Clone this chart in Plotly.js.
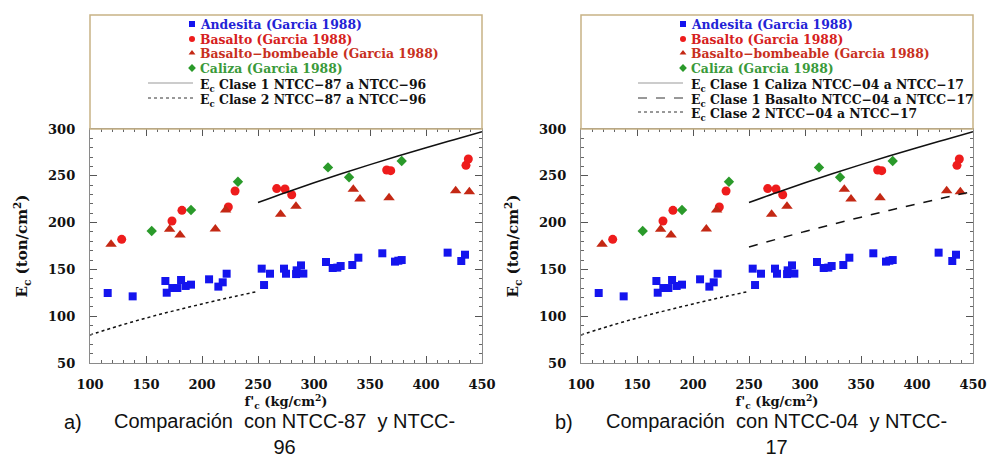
<!DOCTYPE html>
<html>
<head>
<meta charset="utf-8">
<script src="https://cdn.plot.ly/plotly-3.0.1.min.js"></script>
<style>html,body{margin:0;padding:0;background:#fff;} #chart{width:990px;height:459px;}</style>
</head>
<body>
<div id="chart"></div>
<script>
// ---------------- DATA ----------------
const andesitaX = [115.8,138.1,167.3,168.5,173.5,178,181.3,185.4,190.2,206.3,214.6,218.5,222,253.3,255.4,260.7,273.2,275,284,284.5,288.4,290.5,310.7,316.7,320.8,323.8,334.2,339.6,361,372.3,375.3,378.3,419.3,431.5,434.8];
const andesitaY = [124.8,121.2,137.6,125.1,130.1,130.1,138.7,132.3,133.7,139.4,131.6,136.2,145.4,150.8,133.3,145.4,150.8,145.4,145,149,154.3,145.5,157.9,151.5,151.9,153.6,154.7,162.5,167.2,158.3,159.3,160,167.9,159,165.7];
const basaltoX = [128.3,173.2,182.1,223.5,229.5,266.7,274.1,280.1,364.9,368.5,435.7,437.8];
const basaltoY = [182.1,201.7,213.1,216.7,233.8,236.3,235.9,229.8,256.2,255.5,261.2,268];
const bombX = [118.8,171.1,180.4,211.9,221.1,270.2,283.9,335.1,341.1,367,426.5,438.7];
const bombY = [176.8,192.8,186.8,193.2,213.5,208.8,217.4,235.5,225.2,226.6,234.1,233];
const calizaX = [155.1,190.2,232.1,312.5,331.3,378.3];
const calizaY = [191,213.5,243.7,259,248.4,265.8];
const clase1X = [250,275,300,325,350,375,400,425,450];
const clase1Y = [221.4,232.2,242.5,252.4,261.9,271.1,280,288.6,297];
const clase1BasaltoY = [173.9,182.4,190.5,198.3,205.8,213,220,226.8,233.3];
const clase2X = [100,125,150,175,200,225,250];
const clase2Y = [80,89.4,98,105.8,113.1,120,126.5];

const legendLabelsA = ["Andesita (Garcia 1988)","Basalto (Garcia 1988)","Basalto\u2212bombeable (Garcia 1988)","Caliza (Garcia 1988)",
  "E<sub>c</sub> Clase 1 NTCC\u221287 a NTCC\u221296","E<sub>c</sub> Clase 2 NTCC\u221287 a NTCC\u221296"];
const legendLabelsB = ["Andesita (Garcia 1988)","Basalto (Garcia 1988)","Basalto\u2212bombeable (Garcia 1988)","Caliza (Garcia 1988)",
  "E<sub>c</sub> Clase 1 Caliza NTCC\u221204 a NTCC\u221217","E<sub>c</sub> Clase 1 Basalto NTCC\u221204 a NTCC\u221217","E<sub>c</sub> Clase 2 NTCC\u221204 a NTCC\u221217"];
const captionA = ["a)","Comparaci\u00f3n&nbsp; con NTCC-87&nbsp; y NTCC-<br>96"];
const captionB = ["b)","Comparaci\u00f3n&nbsp; con NTCC-04&nbsp; y NTCC-<br>17"];

// ---------------- STYLE ----------------
const W = 990, H = 459;
const px = v => v / W, py = v => 1 - v / H;
const C = {blue:'#1414ee', red:'#ee1c1c', dred:'#c42814', green:'#2a9a2a'};
const TC = {blue:'#2323d6', red:'#d62020', dred:'#c8301e', green:'#3a9a3a'};
const serif = 'DejaVu Serif, serif';
const mk = {
  sq:{symbol:'square', size:8, color:C.blue},
  ci:{symbol:'circle', size:9, color:C.red},
  tr:{symbol:'triangle-up', size:10, color:C.dred},
  di:{symbol:'diamond', size:8, color:C.green}
};

const traces = [];
function addPanel(xa, ya, withBasaltoLine){
  traces.push({x:andesitaX, y:andesitaY, xaxis:xa, yaxis:ya, mode:'markers', marker:mk.sq, name:'Andesita'});
  traces.push({x:basaltoX, y:basaltoY, xaxis:xa, yaxis:ya, mode:'markers', marker:mk.ci, name:'Basalto'});
  traces.push({x:bombX, y:bombY, xaxis:xa, yaxis:ya, mode:'markers', marker:mk.tr, name:'Basalto-bombeable'});
  traces.push({x:calizaX, y:calizaY, xaxis:xa, yaxis:ya, mode:'markers', marker:mk.di, name:'Caliza'});
  traces.push({x:clase1X, y:clase1Y, xaxis:xa, yaxis:ya, mode:'lines', line:{color:'#111', width:1.5, shape:'spline'}, name:'Clase 1'});
  if (withBasaltoLine) traces.push({x:clase1X, y:clase1BasaltoY, xaxis:xa, yaxis:ya, mode:'lines', line:{color:'#111', width:1.5, dash:'dash', shape:'spline'}, name:'Clase 1 Basalto'});
  traces.push({x:clase2X, y:clase2Y, xaxis:xa, yaxis:ya, mode:'lines', line:{color:'#111', width:1.5, dash:'dot', shape:'spline'}, name:'Clase 2'});
}
addPanel('x','y',false);
addPanel('x2','y2',true);

// legend keys (markers) on a pixel overlay axis
const rowsA = [24,39,53,68,83,98];
const rowsB = [24,39,53,68,83,98,112];
const keyXA = 192, keyXB = 683;
const keyMk = [
  {symbol:'square', size:6, color:C.blue},
  {symbol:'circle', size:6, color:C.red},
  {symbol:'triangle-up', size:6, color:C.dred},
  {symbol:'diamond', size:6, color:C.green}
];
keyMk.forEach((m,i)=>{
  traces.push({x:[keyXA, keyXB], y:[rowsA[i], rowsB[i]], xaxis:'x3', yaxis:'y3', mode:'markers', marker:m, hoverinfo:'skip'});
});

const axisCommon = {
  range:[100,450], dtick:50, tick0:100, ticks:'inside', ticklen:7, tickwidth:1, tickcolor:'#555',
  showline:true, linecolor:'#8a8a8a', linewidth:1.2, mirror:'ticks', showgrid:false, zeroline:false,
  minor:{dtick:10, ticks:'inside', ticklen:3, tickcolor:'#666', showgrid:false},
  tickfont:{family:serif, size:13, weight:'bold', color:'#111'}, ticklabelstandoff:9, fixedrange:true
};
const yCommon = Object.assign({}, axisCommon, {range:[50,300], tick0:50, ticklabelstandoff:11});
const xTitle = {text:"f'<sub>c</sub> (kg/cm<sup>2</sup>)", font:{family:serif, size:13, weight:'bold', color:'#111'}, standoff:4};
const yTitle = {text:"E<sub>c</sub> (ton/cm<sup>2</sup>)", font:{family:serif, size:15, weight:'bold', color:'#111'}, standoff:16};

const dA = [px(90), px(482)], dB = [px(581), px(973)];
const dY = [py(363), py(129)];

const shapes = [], annotations = [];
function legendBox(x0, x1){
  shapes.push({type:'rect', xref:'paper', yref:'paper', x0:px(x0), x1:px(x1), y0:py(129), y1:py(15), line:{color:'#c8b285', width:1.5}, layer:'above'});
}
legendBox(90,482); legendBox(581,973);

const textColors = [TC.blue, TC.red, TC.dred, TC.green, '#111', '#111', '#111'];
function legendText(labels, rows, tx){
  labels.forEach((t,i)=>{
    const sub = t.indexOf('<sub>')>=0;
    annotations.push({xref:'paper', yref:'paper', x:px(tx), y:py(rows[i] + (sub?3:0)), xanchor:'left', yanchor:'middle', showarrow:false,
      text:t, font:{family:serif, size:12.4, weight:'bold', color:textColors[i]}});
  });
}
legendText(legendLabelsA, rowsA, 198);
legendText(legendLabelsB, rowsB, 689);
function keyLine(x0,x1,y,dash){
  shapes.push({type:'line', xref:'paper', yref:'paper', x0:px(x0), x1:px(x1), y0:py(y), y1:py(y), line:{color: dash==='solid'?'#999':'#333', width:1, dash:dash}});
}
keyLine(148,193,rowsA[4],'solid'); keyLine(148,193,rowsA[5],'dot');
keyLine(638,683,rowsB[4],'solid'); keyLine(638,683,rowsB[5],'dash'); keyLine(638,683,rowsB[6],'dot');

function caption(cap, xa, xc){
  const f = {family:'Liberation Sans, Arial, sans-serif', size:20, color:'#111'};
  annotations.push({xref:'paper', yref:'paper', x:px(xa), y:py(422), xanchor:'left', yanchor:'middle', showarrow:false, text:cap[0], font:f});
  annotations.push({xref:'paper', yref:'paper', x:px(xc), y:py(459), xanchor:'center', yanchor:'bottom', align:'center', showarrow:false, text:cap[1], font:f, borderpad:0});
}
caption(captionA, 62, 284);
caption(captionB, 553, 776);

const layout = {
  width:W, height:H, margin:{l:0,r:0,t:0,b:0}, paper_bgcolor:'#fff', plot_bgcolor:'rgba(0,0,0,0)',
  showlegend:false,
  xaxis: Object.assign({}, axisCommon, {domain:dA, anchor:'y', title:xTitle}),
  yaxis: Object.assign({}, yCommon, {domain:dY, anchor:'x', title:yTitle}),
  xaxis2: Object.assign({}, axisCommon, {domain:dB, anchor:'y2', title:xTitle}),
  yaxis2: Object.assign({}, yCommon, {domain:dY, anchor:'x2', title:yTitle}),
  xaxis3: {domain:[0,1], range:[0,W], visible:false, anchor:'y3', fixedrange:true},
  yaxis3: {domain:[0,1], range:[H,0], visible:false, anchor:'x3', fixedrange:true},
  shapes: shapes, annotations: annotations
};
Plotly.newPlot('chart', traces, layout, {staticPlot:true});
</script>
</body>
</html>
